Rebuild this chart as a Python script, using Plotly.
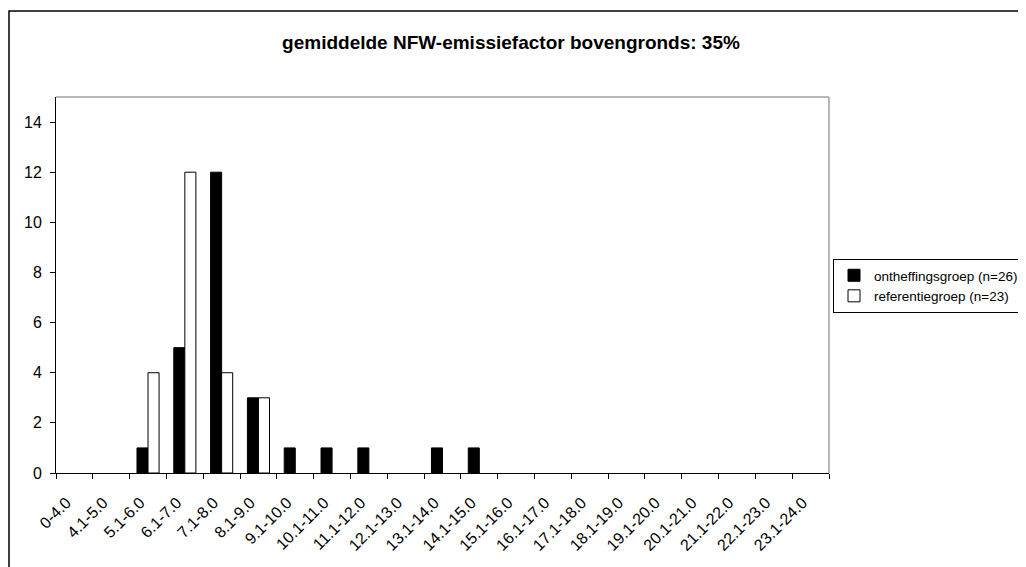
import plotly.graph_objects as go

categories = ["0-4.0", "4.1-5.0", "5.1-6.0", "6.1-7.0", "7.1-8.0", "8.1-9.0",
              "9.1-10.0", "10.1-11.0", "11.1-12.0", "12.1-13.0", "13.1-14.0",
              "14.1-15.0", "15.1-16.0", "16.1-17.0", "17.1-18.0", "18.1-19.0",
              "19.1-20.0", "20.1-21.0", "21.1-22.0", "22.1-23.0", "23.1-24.0"]
ontheffingsgroep = [0, 0, 1, 5, 12, 3, 1, 1, 1, 0, 1, 1, 0, 0, 0, 0, 0, 0, 0, 0, 0]
referentiegroep = [0, 0, 4, 12, 4, 3, 0, 0, 0, 0, 0, 0, 0, 0, 0, 0, 0, 0, 0, 0, 0]
y_ticks = [0, 2, 4, 6, 8, 10, 12, 14]

OFF = 8  # the page body margin shifts the figure by this many pixels
W, H = 1026 - OFF, 567 - OFF
# plot area in page pixels
PL, PR, PT, PB = 56, 829, 97, 473
L, R, T, B = PL - OFF, PR - OFF, PT - OFF, PB - OFF


def nz(values):
    # empty bins are not drawn at all (no zero-height outline)
    return [v if v else None for v in values]


fig = go.Figure()
fig.add_trace(go.Bar(x=categories, y=nz(ontheffingsgroep), name="ontheffingsgroep (n=26)",
                     marker=dict(color="black", line=dict(color="black", width=1))))
fig.add_trace(go.Bar(x=categories, y=nz(referentiegroep), name="referentiegroep (n=23)",
                     marker=dict(color="white", line=dict(color="black", width=1))))


def px_x(px):
    return (px - PL) / (PR - PL)


def px_y(py):
    return (PB - py) / (PB - PT)


# outer chart frame
fig.add_shape(type="rect", xref="paper", yref="paper",
              x0=px_x(9), x1=px_x(1060), y0=px_y(600), y1=px_y(11),
              line=dict(color="black", width=1.5), layer="below")
# gray plot-area border (top & right)
fig.add_shape(type="line", xref="paper", yref="paper", x0=0, x1=1, y0=1, y1=1,
              line=dict(color="#a0a0a0", width=1.5))
fig.add_shape(type="line", xref="paper", yref="paper", x0=1, x1=1, y0=0, y1=1,
              line=dict(color="#a0a0a0", width=1.5))

fig.update_layout(
    template="none",
    width=W, height=H,
    margin=dict(l=L, r=W - R, t=T, b=H - B, pad=0, autoexpand=False),
    paper_bgcolor="white", plot_bgcolor="white",
    font=dict(family="Liberation Sans, Arial, sans-serif", color="black", size=14),
    title=dict(text="<b>gemiddelde NFW-emissiefactor bovengronds: 35%</b>",
               x=px_x(511), xref="paper", xanchor="center",
               y=1 - (42 - OFF) / H, yref="container", yanchor="middle",
               font=dict(size=19, color="black")),
    barmode="group", bargap=0.4, bargroupgap=0,
    showlegend=True,
    legend=dict(x=px_x(833), y=px_y(259), xanchor="left", yanchor="top",
                bordercolor="black", borderwidth=1, bgcolor="white",
                font=dict(size=13.5), itemwidth=30),
    xaxis=dict(type="category", showgrid=False, showline=True, linecolor="black",
               linewidth=1, ticks="outside", tickson="boundaries", ticklen=5,
               tickcolor="black", tickangle=-45, tickfont=dict(size=16),
               ticklabelstandoff=13, ticklabelshift=-8, automargin=False,
               range=[-0.5, len(categories) - 0.5]),
    yaxis=dict(range=[0, 15], tickvals=y_ticks, showgrid=False, showline=True,
               linecolor="black", linewidth=1, ticks="outside", ticklen=5,
               tickcolor="black", tickfont=dict(size=16), zeroline=False,
               ticklabelstandoff=5, automargin=False),
)

fig.write_html("out.html")
